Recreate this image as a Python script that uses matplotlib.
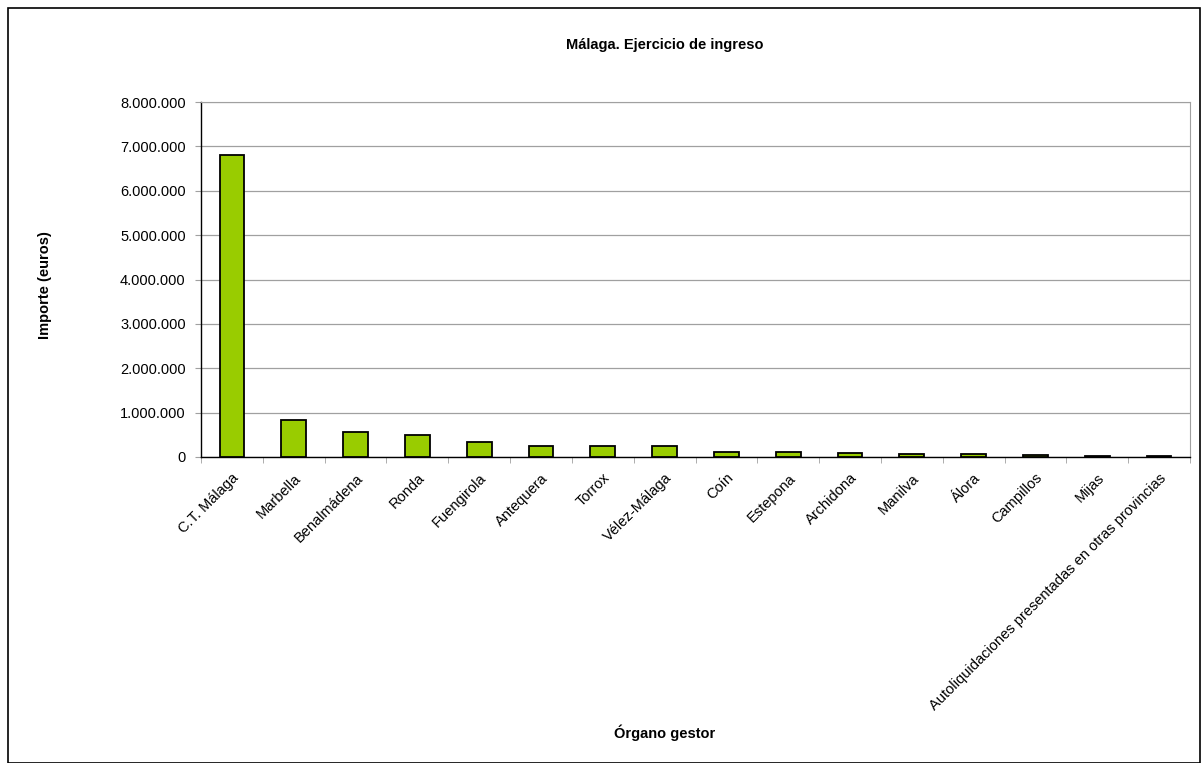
import matplotlib
matplotlib.use("Agg")
import matplotlib.pyplot as plt
from matplotlib.ticker import FuncFormatter, FixedLocator
from matplotlib.patches import Rectangle

categories = ["C.T. Málaga", "Marbella", "Benalmádena", "Ronda", "Fuengirola",
              "Antequera", "Torrox", "Vélez-Málaga", "Coín", "Estepona",
              "Archidona", "Manilva", "Álora", "Campillos", "Mijas",
              "Autoliquidaciones presentadas en otras provincias"]
values = [6800000, 830000, 555000, 495000, 345000, 255000, 255000, 255000,
          110000, 105000, 80000, 75000, 60000, 35000, 30000, 20000]
yticks = [0, 1000000, 2000000, 3000000, 4000000, 5000000, 6000000, 7000000, 8000000]

plt.rcParams['font.family'] = ['Liberation Sans Narrow', 'Liberation Sans', 'DejaVu Sans']

fig = plt.figure(figsize=(12.03, 7.63), dpi=100)
fig.patches.append(Rectangle((8/1203, 0), 1192/1203, 755/763, transform=fig.transFigure,
                             fill=False, edgecolor='black', linewidth=1.2))

ax = fig.add_axes([201/1203, 1-457/763, 989/1203, 355/763])
x = list(range(len(categories)))
ax.bar(x, values, width=0.4, color='#99CC00', edgecolor='black', linewidth=1.3, zorder=3)
ax.set_xlim(-0.5, len(categories) - 0.5)
ax.set_ylim(0, 8000000)
ax.yaxis.set_major_locator(FixedLocator(yticks))
ax.yaxis.set_major_formatter(FuncFormatter(lambda v, p: f"{int(v):,}".replace(",", ".")))
ax.grid(axis='y', color='#a0a0a0', linewidth=0.9, zorder=0)

ax.set_xticks(x)
ax.set_xticklabels(categories, rotation=45, ha='right', rotation_mode='anchor', fontsize=10.5)
ax.tick_params(axis='x', length=0, pad=10)
ax.set_xticks([i - 0.5 for i in range(len(categories) + 1)], minor=True)
ax.tick_params(axis='x', which='minor', length=4, color='#a0a0a0')
ax.tick_params(axis='y', length=4, color='#a0a0a0', labelsize=10.5, pad=7)

for s in ['top', 'right']:
    ax.spines[s].set_color('#a0a0a0')
for s in ['left', 'bottom']:
    ax.spines[s].set_color('black')
    ax.spines[s].set_linewidth(1.0)

fig.text(665/1203, 1-45/763, "Málaga. Ejercicio de ingreso", ha='center', va='center',
         fontsize=10.5, fontweight='bold')
fig.text(45/1203, 1-285/763, "Importe (euros)", ha='center', va='center', rotation=90,
         fontsize=10.5, fontweight='bold')
fig.text(665/1203, 1-733/763, "Órgano gestor", ha='center', va='center',
         fontsize=10.5, fontweight='bold')

fig.savefig("out.png", dpi=100)
